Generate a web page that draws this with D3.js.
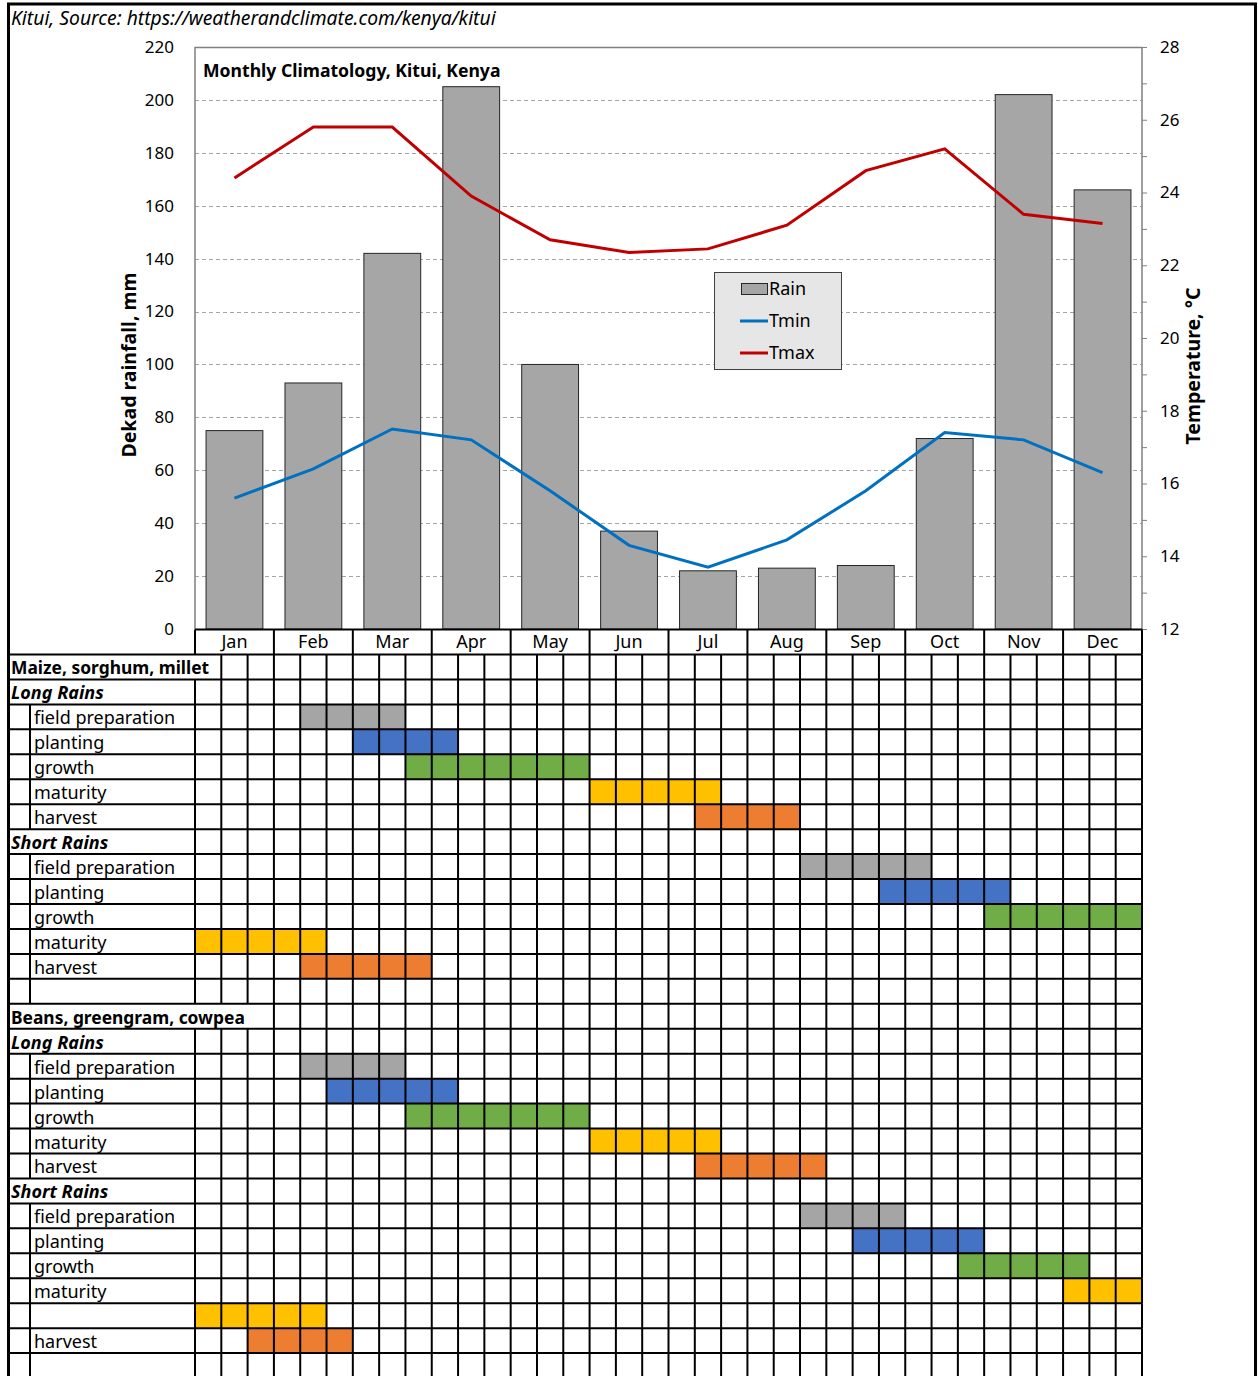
<!DOCTYPE html>
<html>
<head>
<meta charset="utf-8">
<script src="https://cdn.jsdelivr.net/npm/d3@7"></script>
<style>
body { margin: 0; background: #fff; }
svg { display: block; }
text { font-family: "Noto Sans", "Open Sans", sans-serif; fill: #000; }
</style>
</head>
<body>
<div id="chart"></div>
<script>
// climatology
var months = ["Jan", "Feb", "Mar", "Apr", "May", "Jun", "Jul", "Aug", "Sep", "Oct", "Nov", "Dec"];
var rain = [75, 93, 142, 205, 100, 37, 22, 23, 24, 72, 202, 166];
var tmin = [15.6, 16.4, 17.5, 17.2, 15.8, 14.3, 13.7, 14.45, 15.8, 17.4, 17.2, 16.3];
var tmax = [24.4, 25.8, 25.8, 23.9, 22.7, 22.35, 22.45, 23.1, 24.6, 25.2, 23.4, 23.15];
var rainTicks = [0, 20, 40, 60, 80, 100, 120, 140, 160, 180, 200, 220];
var tempTicks = [12, 14, 16, 18, 20, 22, 24, 26, 28];

// crop calendar rows
var rowLabels = [
    "Maize, sorghum, millet", "Long Rains", "field preparation", "planting", "growth", "maturity", "harvest",
    "Short Rains", "field preparation", "planting", "growth", "maturity", "harvest", "",
    "Beans, greengram, cowpea", "Long Rains", "field preparation", "planting", "growth", "maturity", "harvest",
    "Short Rains", "field preparation", "planting", "growth", "maturity", "", "harvest", ""
];
var rowTypes = [
    "crop", "season", "stage", "stage", "stage", "stage", "stage",
    "season", "stage", "stage", "stage", "stage", "stage", "stage",
    "crop", "season", "stage", "stage", "stage", "stage", "stage",
    "season", "stage", "stage", "stage", "stage", "stage", "stage", "stage"
];
// [row, stage, first dekad, last dekad]
var activities = [
    [2, "field preparation", 4, 7], [3, "planting", 6, 9], [4, "growth", 8, 14], [5, "maturity", 15, 19], [6, "harvest", 19, 22],
    [8, "field preparation", 23, 27], [9, "planting", 26, 30], [10, "growth", 30, 35], [11, "maturity", 0, 4], [12, "harvest", 4, 8],
    [16, "field preparation", 4, 7], [17, "planting", 5, 9], [18, "growth", 8, 14], [19, "maturity", 15, 19], [20, "harvest", 19, 23],
    [22, "field preparation", 23, 26], [23, "planting", 25, 29], [24, "growth", 29, 33], [25, "maturity", 33, 35], [26, "maturity", 0, 4], [27, "harvest", 2, 5]
];

var stageColor = {
    "field preparation": "#A5A5A5",
    "planting": "#4472C4",
    "growth": "#70AD47",
    "maturity": "#FFC000",
    "harvest": "#ED7D31"
};

var W = 1258, H = 1376;
var plotLeft = 195, plotRight = 1142, plotTop = 47, plotBottom = 629;
var fs = "18px";

var svg = d3.select("#chart").append("svg")
    .attr("width", W)
    .attr("height", H);

var x = d3.scaleBand().domain(months).range([plotLeft, plotRight]).paddingInner(0.28).paddingOuter(0.14);
var xm = d3.scaleBand().domain(months).range([plotLeft, plotRight]);
var y = d3.scaleLinear().domain([0, 220]).range([plotBottom, plotTop]);
var yT = d3.scaleLinear().domain([12, 28]).range([plotBottom, plotTop]);

// gridlines
svg.append("g").selectAll("line")
    .data(rainTicks.filter(function(d) { return d > 0 && d < 220; }))
    .enter().append("line")
    .attr("x1", plotLeft).attr("x2", plotRight)
    .attr("y1", function(d) { return Math.round(y(d)) + 0.5; })
    .attr("y2", function(d) { return Math.round(y(d)) + 0.5; })
    .style("stroke", "#A6A6A6")
    .style("stroke-dasharray", "4,3");

// bars
svg.append("g").selectAll("rect")
    .data(rain)
    .enter().append("rect")
    .attr("x", function(d, i) { return x(months[i]); })
    .attr("width", x.bandwidth())
    .attr("y", function(d) { return y(d); })
    .attr("height", function(d) { return plotBottom - y(d); })
    .style("fill", "#A6A6A6")
    .style("stroke", "#262626")
    .style("stroke-width", 1);

// plot frame
svg.append("path")
    .attr("d", "M" + plotLeft + "," + plotBottom + "V" + (plotTop + 0.5) + "H" + plotRight + "V" + plotBottom)
    .style("fill", "none")
    .style("stroke", "#808080")
    .style("stroke-width", 1.5);

// temperature lines
var line = d3.line()
    .x(function(d, i) { return xm(months[i]) + xm.bandwidth() / 2; })
    .y(function(d) { return yT(d); });

svg.append("path").datum(tmax)
    .attr("d", line)
    .style("fill", "none").style("stroke", "#C00000").style("stroke-width", 3);
svg.append("path").datum(tmin)
    .attr("d", line)
    .style("fill", "none").style("stroke", "#0070C0").style("stroke-width", 3);

// left axis labels
svg.append("g").selectAll("text")
    .data(rainTicks)
    .enter().append("text")
    .attr("x", 174)
    .attr("y", function(d) { return y(d); })
    .attr("dy", "0.35em")
    .style("text-anchor", "end")
    .style("font-size", "17px")
    .text(function(d) { return d; });

// right axis
var rAxis = svg.append("g")
    .attr("transform", "translate(" + plotRight + ",0)")
    .call(d3.axisRight(yT).ticks(16).tickSize(5).tickFormat(""));
rAxis.select(".domain").remove();
rAxis.selectAll("line").style("stroke", "#808080");
svg.append("g").selectAll("text")
    .data(tempTicks)
    .enter().append("text")
    .attr("x", 1160)
    .attr("y", function(d) { return yT(d); })
    .attr("dy", "0.35em")
    .style("font-size", "17px")
    .text(function(d) { return d; });

// axis titles
svg.append("text")
    .attr("transform", "translate(136,365) rotate(-90)")
    .style("text-anchor", "middle")
    .style("font-weight", "bold")
    .style("font-size", "19.5px")
    .text("Dekad rainfall, mm");
svg.append("text")
    .attr("transform", "translate(1200,366) rotate(-90)")
    .style("text-anchor", "middle")
    .style("font-weight", "bold")
    .style("font-size", "19.5px")
    .text("Temperature, °C");

// titles
svg.append("text")
    .attr("x", 203).attr("y", 77)
    .style("font-weight", "bold")
    .style("font-size", "17.6px")
    .text("Monthly Climatology, Kitui, Kenya");
svg.append("text")
    .attr("x", 11).attr("y", 25)
    .style("font-style", "italic")
    .style("font-size", "19.3px")
    .text("Kitui, Source: https://weatherandclimate.com/kenya/kitui");

// legend
var lg = svg.append("g").attr("transform", "translate(714,272)");
lg.append("rect")
    .attr("x", 0.5).attr("y", 0.5).attr("width", 127).attr("height", 97)
    .style("fill", "#E6E6E6").style("stroke", "#404040");
lg.append("rect")
    .attr("x", 27.5).attr("y", 11.5).attr("width", 26).attr("height", 11)
    .style("fill", "#A6A6A6").style("stroke", "#262626");
lg.append("line").attr("x1", 26).attr("x2", 54).attr("y1", 49).attr("y2", 49)
    .style("stroke", "#0070C0").style("stroke-width", 3);
lg.append("line").attr("x1", 26).attr("x2", 54).attr("y1", 81).attr("y2", 81)
    .style("stroke", "#C00000").style("stroke-width", 3);
lg.selectAll("text.lbl")
    .data(["Rain", "Tmin", "Tmax"])
    .enter().append("text")
    .attr("class", "lbl")
    .attr("x", 55)
    .attr("y", function(d, i) { return 17 + i * 32; })
    .attr("dy", "0.35em")
    .style("font-size", fs)
    .text(function(d) { return d; });

// month header row
var hdrTop = 629.5, rowTop = 654.5, rowH = 24.95;
var gridStroke = 2;
var hdr = svg.append("g");
hdr.append("line").attr("x1", plotLeft).attr("x2", plotRight).attr("y1", hdrTop).attr("y2", hdrTop)
    .style("stroke", "#000").style("stroke-width", gridStroke);
hdr.selectAll("line.sep")
    .data(months.concat(["end"]))
    .enter().append("line")
    .attr("class", "sep")
    .attr("x1", function(d, i) { return i < 12 ? xm(d) : plotRight; })
    .attr("x2", function(d, i) { return i < 12 ? xm(d) : plotRight; })
    .attr("y1", hdrTop).attr("y2", rowTop)
    .style("stroke", "#000").style("stroke-width", gridStroke);
hdr.selectAll("text")
    .data(months)
    .enter().append("text")
    .attr("x", function(d) { return xm(d) + xm.bandwidth() / 2; })
    .attr("y", 642)
    .attr("dy", "0.35em")
    .style("text-anchor", "middle")
    .style("font-size", fs)
    .text(function(d) { return d; });

// calendar
var dekads = d3.range(36);
var xd = d3.scaleBand().domain(dekads).range([plotLeft, plotRight]);
var rows = d3.range(rowLabels.length);
var yr = d3.scaleBand().domain(rows).range([rowTop, rowTop + rowH * rowLabels.length]);

var cal = svg.append("g");
cal.selectAll("rect.act")
    .data(activities)
    .enter().append("rect")
    .attr("class", "act")
    .attr("x", function(d) { return xd(d[2]); })
    .attr("width", function(d) { return xd(d[3]) + xd.bandwidth() - xd(d[2]); })
    .attr("y", function(d) { return yr(d[0]); })
    .attr("height", yr.bandwidth())
    .style("fill", function(d) { return stageColor[d[1]]; });

var labels = cal.selectAll("text.row")
    .data(rows)
    .enter().append("text")
    .attr("class", "row")
    .attr("x", function(d) { return rowTypes[d] === "stage" ? 34 : 11; })
    .attr("y", function(d) { return yr(d) + yr.bandwidth() / 2 + 1; })
    .attr("dy", "0.36em")
    .style("font-size", function(d) { return rowTypes[d] === "crop" ? "17.4px" : fs; })
    .style("font-weight", function(d) { return rowTypes[d] === "stage" ? "normal" : "bold"; })
    .style("font-style", function(d) { return rowTypes[d] === "season" ? "italic" : "normal"; })
    .text(function(d) { return rowLabels[d]; });

// horizontal grid
cal.selectAll("line.h")
    .data(rows)
    .enter().append("line")
    .attr("x1", 8).attr("x2", plotRight)
    .attr("y1", function(d) { return yr(d); })
    .attr("y2", function(d) { return yr(d); })
    .style("stroke", "#000").style("stroke-width", gridStroke);

// vertical grid, skipped where a label runs over
var bounds = d3.range(37).map(function(i) { return i < 36 ? xd(i) : plotRight; });
labels.each(function(r) {
    var end = rowLabels[r] ? this.getBBox().x + this.getBBox().width : 0;
    var xs = bounds.filter(function(b) { return b > end + 6; });
    if (rowTypes[r] === "stage") xs.push(30);
    cal.selectAll(null)
        .data(xs)
        .enter().append("line")
        .attr("x1", function(d) { return d; })
        .attr("x2", function(d) { return d; })
        .attr("y1", yr(r))
        .attr("y2", yr(r) + yr.bandwidth())
        .style("stroke", "#000").style("stroke-width", gridStroke);
});

// outer frame
svg.append("path")
    .attr("d", "M8.5," + H + "V4H1255.5V" + H)
    .style("fill", "none")
    .style("stroke", "#000")
    .style("stroke-width", 3);
</script>
</body>
</html>
